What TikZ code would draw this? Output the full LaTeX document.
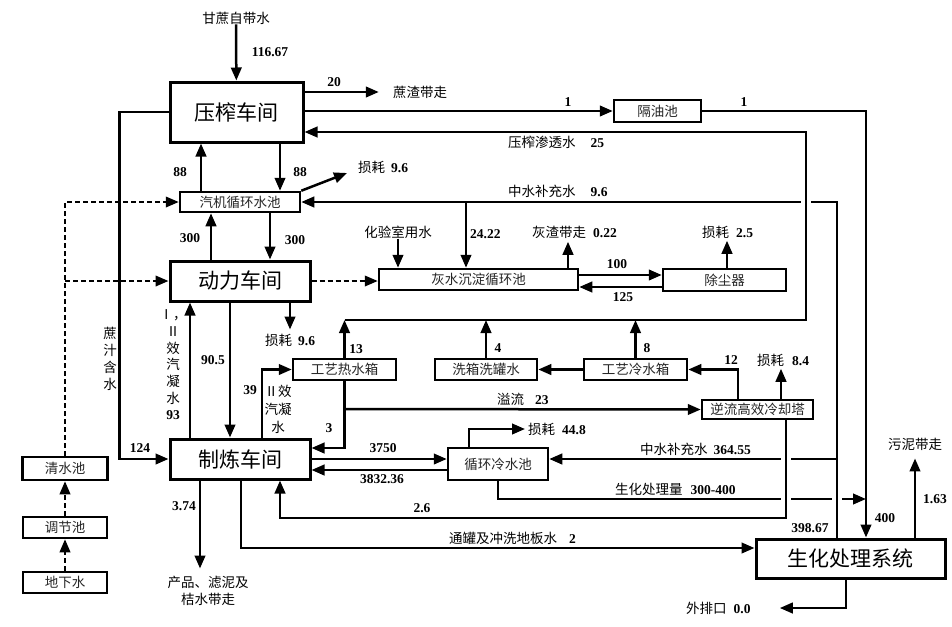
\documentclass[tikz,border=0pt]{standalone}
\usepackage{fontspec}
\setmainfont{Liberation Serif}
\newfontfamily\cjk{Noto Sans CJK SC}
\usetikzlibrary{arrows.meta}
\newcommand\nm[1]{{\rmfamily\bfseries #1}}

\begin{document}
\begin{tikzpicture}[x=1pt,y=-1pt,>={Triangle[length=13pt,width=10.5pt]},
  flow/.style={->, line width=2.5pt},
  dflow/.style={->, line width=2.2pt, dash pattern=on 5pt off 3pt},
  box/.style={draw, line width=2.5pt, inner sep=0pt, text=black!85, font=\cjk\fontsize{13.5}{15}\selectfont},
  bigbox/.style={draw, line width=3pt, inner sep=0pt, font=\cjk\fontsize{21}{24}\selectfont},
  lbl/.style={inner sep=0pt, font=\cjk\fontsize{13.5}{16}\selectfont}]
\useasboundingbox[fill=white] (0,0) rectangle (952,626);
\node[bigbox, minimum width=133pt, minimum height=60pt] (zy) at (236.5,112) {压榨车间};
\node[box, minimum width=120pt, minimum height=20pt] (qj) at (240,202) {汽机循环水池};
\node[bigbox, minimum width=140pt, minimum height=40pt] (dl) at (240,281) {动力车间};
\node[bigbox, minimum width=140pt, minimum height=40pt] (zl) at (240,459) {制炼车间};
\node[box, minimum width=87pt, minimum height=22pt] (gy) at (657.5,111) {隔油池};
\node[box, minimum width=199pt, minimum height=21pt] (hs) at (478.5,279.5) {灰水沉淀循环池};
\node[box, minimum width=123pt, minimum height=22pt] (cc) at (724.5,280) {除尘器};
\node[box, minimum width=103pt, minimum height=21pt] (rx) at (344.5,369.5) {工艺热水箱};
\node[box, minimum width=102pt, minimum height=21pt] (xx) at (486,369.5) {洗箱洗罐水};
\node[box, minimum width=103pt, minimum height=21pt] (lx) at (635.5,369.5) {工艺冷水箱};
\node[box, minimum width=111pt, minimum height=19pt] (nl) at (757.5,409.5) {逆流高效冷却塔};
\node[box, minimum width=100pt, minimum height=32pt] (xh) at (498,464) {循环冷水池};
\node[bigbox, minimum width=189pt, minimum height=39pt] (sh) at (850.5,558.5) {生化处理系统};
\node[box, minimum width=85pt, minimum height=23pt] (qs) at (65,468.5) {清水池};
\node[box, minimum width=84pt, minimum height=21pt] (tj) at (65,527.5) {调节池};
\node[box, minimum width=84pt, minimum height=21pt] (dx) at (65,582.5) {地下水};

\node[lbl] (gz) at (236,18) {甘蔗自带水};
\node[lbl] (n11667) at (270,52) {\nm{116.67}};
\node[lbl] (n20) at (334,82) {\nm{20}};
\node[lbl] (zz) at (420,92) {蔗渣带走};
\node[lbl] (n1a) at (568,102) {\nm{1}};
\node[lbl] (n1b) at (744,102) {\nm{1}};
\node[lbl, anchor=west] (zyst) at (508,142) {压榨渗透水\hspace{15pt}\nm{25}};
\node[lbl, anchor=west] (zsa) at (508,191) {中水补充水\hspace{15pt}\nm{9.6}};
\node[lbl] (n88a) at (180,172) {\nm{88}};
\node[lbl] (n88b) at (300,172) {\nm{88}};
\node[lbl, anchor=west] (sha) at (358,167) {损耗\hspace{6pt}\nm{9.6}};
\node[lbl] (hy) at (398,232) {化验室用水};
\node[lbl, anchor=west] (n2422) at (470,234) {\nm{24.22}};
\node[lbl, anchor=west] (hz) at (532,232) {灰渣带走\hspace{7pt}\nm{0.22}};
\node[lbl] (n100) at (617,264) {\nm{100}};
\node[lbl] (n125) at (623,297) {\nm{125}};
\node[lbl, anchor=west] (shb) at (702,232) {损耗\hspace{7pt}\nm{2.5}};
\node[lbl] (n300a) at (190,238) {\nm{300}};
\node[lbl] (n300b) at (295,240) {\nm{300}};
\node[lbl, align=center, font=\cjk\fontsize{13.5}{16.7}\selectfont] (ii93) at (173,365) {Ⅰ，\\Ⅱ\\效\\汽\\凝\\水\\\nm{93}};
\node[lbl] (n905) at (213,360) {\nm{90.5}};
\node[lbl, anchor=west] (shc) at (265,340) {损耗\hspace{6pt}\nm{9.6}};
\node[lbl, align=center, font=\cjk\fontsize{13.5}{17}\selectfont] (zzhs) at (110,359) {蔗\\汁\\含\\水};
\node[lbl] (n124) at (140,448) {\nm{124}};
\node[lbl] (n39) at (250,390) {\nm{39}};
\node[lbl, align=center, font=\cjk\fontsize{13.5}{18}\selectfont] (iicn) at (278,409) {Ⅱ效\\汽凝\\水};
\node[lbl] (n13) at (356,349) {\nm{13}};
\node[lbl] (n4) at (498,348) {\nm{4}};
\node[lbl] (n8) at (647,348) {\nm{8}};
\node[lbl] (n12) at (731,360) {\nm{12}};
\node[lbl, anchor=west] (shd) at (757,360) {损耗\hspace{8pt}\nm{8.4}};
\node[lbl, anchor=west] (yl) at (497,399) {溢流\hspace{11pt}\nm{23}};
\node[lbl] (n3) at (329,428) {\nm{3}};
\node[lbl] (n3750) at (383,448) {\nm{3750}};
\node[lbl] (n383236) at (382,479) {\nm{3832.36}};
\node[lbl, anchor=west] (she) at (528,429) {损耗\hspace{7pt}\nm{44.8}};
\node[lbl, anchor=west] (zsb) at (640,449) {中水补充水\hspace{6pt}\nm{364.55}};
\node[lbl, anchor=west] (shl) at (615,489) {生化处理量\hspace{8pt}\nm{300-400}};
\node[lbl] (n26) at (422,508) {\nm{2.6}};
\node[lbl] (n374) at (184,506) {\nm{3.74}};
\node[lbl, align=center, font=\cjk\fontsize{13.5}{17}\selectfont] (cp) at (208,591) {产品、滤泥及\\桔水带走};
\node[lbl, anchor=west] (tg) at (449,538) {通罐及冲洗地板水\hspace{12pt}\nm{2}};
\node[lbl] (n39867) at (810,528) {\nm{398.67}};
\node[lbl] (n400) at (885,518) {\nm{400}};
\node[lbl] (n163) at (935,499) {\nm{1.63}};
\node[lbl] (wn) at (915,444) {污泥带走};
\node[lbl, anchor=west] (wp) at (686,608) {外排口\hspace{7pt}\nm{0.0}};

\coordinate (ps) at (806,320);
\coordinate (zs1) at (466,202);
\coordinate (zs2) at (837,459);
\coordinate (sl) at (866,499);

\draw[flow] (gz) -- (zy);
\draw[flow] (zy.east |- zz) -- ([xshift=-14pt]zz.west);
\draw[flow] (gy.west -| zy.east) -- (gy.west);
\draw[flow] (gy.east) -| ([xshift=15.5pt]sh.north);
\draw[flow] (xh.south) |- (sl);
\fill[white] (837,499) +(-5,-3) rectangle +(5,3);
\draw[flow] ([xshift=-13.5pt]sh.north) |- (qj.east);
\draw[flow] (zs2) -- (xh.east |- zs2);
\draw[flow] (zs1) -- (hs.north -| zs1);
\foreach \p in {(806,202),(786,459),(786,499)}
  \fill[white] \p +(-5,-3) rectangle +(5,3);
\draw[flow] (rx.north |- ps) -| (806,132) -- (zy.east |- 0,132);
\foreach \b in {rx,xx,lx}
  \draw[flow] (\b.north) -- (\b.north |- ps);
\draw[flow] (nl.south -| 786,0) |- (280,518) -- (zl.south -| 280,0);
\draw[flow] (zl.east) -- (zl.east -| xh.west);
\draw[flow] (xh.west |- 0,470) -- (zl.east |- 0,470);
\draw[flow] (xh.north -| 469,0) |- ([xshift=-3pt]she.west);
\draw[flow] (zl.south -| 200,0) -- ++(0,88);
\draw[flow] (zl.south -| 241,0) |- (sh.west |- 0,548);
\draw[flow] (sh.south -| 846,0) |- ([xshift=29pt]wp.east);
\draw[flow] (sh.north -| 915,0) -- ([yshift=-8pt]wn.south);
\draw[flow] (zy.west) -- ++(-49,0) |- (zl.west);
\draw[dflow] (dx) -- (tj);
\draw[dflow] (tj) -- (qs);
\draw[dflow] (qs.north) |- (qj.west);
\draw[dflow] (qs.north |- dl.west) -- (dl.west);
\draw[dflow] (dl.east) -- (dl.east -| hs.west);
\draw[flow] (qj.north -| 201,0) -- (zy.south -| 201,0);
\draw[flow] (zy.south -| 280,0) -- (qj.north -| 280,0);
\draw[flow] (qj.north east) -- ([shift={(-11pt,-6pt)}]sha.west);
\draw[flow] (dl.north -| 211,0) -- (qj.south -| 211,0);
\draw[flow] (qj.south -| 270,0) -- (dl.north -| 270,0);
\draw[flow] (hy) -- (hs.north -| hy);
\draw[flow] (hs.north -| 568,0) -- ++(0,-26);
\draw[flow] (hs.east |- 0,275) -- (cc.west |- 0,275);
\draw[flow] (cc.west |- 0,287) -- (hs.east |- 0,287);
\draw[flow] (cc.north -| 727,0) -- ++(0,-27);
\draw[flow] (dl.south -| 230,0) -- (zl.north -| 230,0);
\draw[flow] (zl.north -| 190,0) -- (dl.south -| 190,0);
\draw[flow] (dl.south -| 290,0) -- ++(0,27);
\draw[flow] (zl.north -| 262,0) |- (rx.west);
\draw[flow] (lx) -- (xx);
\draw[flow] (nl.north -| 738,0) |- (lx.east);
\draw[flow] (nl.north -| 781,0) -- ++(0,-30);
\draw[flow] (rx.south) |- (zl.east |- 0,448);
\draw[flow] (rx.south |- 0,409) -- (nl.west);
\end{tikzpicture}
\end{document}
